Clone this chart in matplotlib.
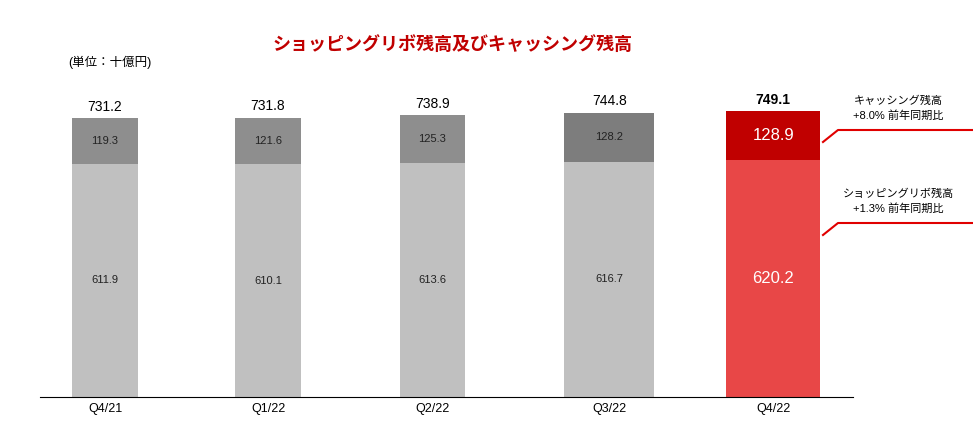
import matplotlib.pyplot as plt

plt.rcParams['font.family'] = ['Liberation Sans', 'Noto Sans CJK JP', 'DejaVu Sans']

quarters = ['Q4/21', 'Q1/22', 'Q2/22', 'Q3/22', 'Q4/22']
shopping = [611.9, 610.1, 613.6, 616.7, 620.2]
cashing = [119.3, 121.6, 125.3, 128.2, 128.9]
totals = [731.2, 731.8, 738.9, 744.8, 749.1]

x = [0, 0.976, 1.958, 3.018, 4]
widths = [0.39, 0.39, 0.39, 0.54, 0.56]
bot_colors = ['#c0c0c0'] * 4 + ['#e84747']
top_colors = ['#8e8e8e', '#8e8e8e', '#8e8e8e', '#7d7d7d', '#c00000']

fig = plt.figure(figsize=(9.73, 4.21), dpi=100)
ax = fig.add_axes([0.041, 0.057, 0.836, 0.80])

ax.bar(x, shopping, width=widths, color=bot_colors)
ax.bar(x, cashing, bottom=shopping, width=widths, color=top_colors)

for i, xi in enumerate(x):
    last = i == 4
    c = 'white' if last else '#222222'
    fs = 12 if last else 8
    ax.text(xi, shopping[i] / 2, f'{shopping[i]:.1f}', ha='center', va='center', color=c, fontsize=fs)
    ax.text(xi, shopping[i] + cashing[i] / 2, f'{cashing[i]:.1f}', ha='center', va='center', color=c, fontsize=fs)
    ax.text(xi, totals[i] + 12, f'{totals[i]:.1f}', ha='center', va='bottom', color='black',
            fontsize=10, fontweight='bold' if last else 'normal')

ax.set_xlim(-0.39, 4.48)
ax.set_ylim(0, 883)
ax.set_xticks(x)
ax.set_xticklabels(quarters, fontsize=9)
ax.set_yticks([])
for s in ['left', 'right', 'top']:
    ax.spines[s].set_visible(False)
ax.spines['bottom'].set_color('black')
ax.tick_params(axis='x', length=0, pad=4)

# 右側の注記
red = '#e00000'
fig.add_artist(plt.Line2D([823/973, 838/973, 973/973], [1 - 142/421, 1 - 130/421, 1 - 130/421], color=red, lw=1.5))
fig.add_artist(plt.Line2D([823/973, 838/973, 973/973], [1 - 235/421, 1 - 223/421, 1 - 223/421], color=red, lw=1.5))
fig.text(898/973, 1 - 101/421, 'キャッシング残高', ha='center', va='center', fontsize=8)
fig.text(898/973, 1 - 116/421, '+8.0% 前年同期比', ha='center', va='center', fontsize=8)
fig.text(898/973, 1 - 194/421, 'ショッピングリボ残高', ha='center', va='center', fontsize=8)
fig.text(898/973, 1 - 209/421, '+1.3% 前年同期比', ha='center', va='center', fontsize=8)

fig.text(453/973, 1 - 45/421, 'ショッピングリボ残高及びキャッシング残高', ha='center', va='center',
         fontsize=13, fontweight='bold', color='#c00000')
fig.text(68/973, 1 - 62/421, '(単位：十億円)', ha='left', va='center', fontsize=9)

fig.savefig('out.png', dpi=100)
